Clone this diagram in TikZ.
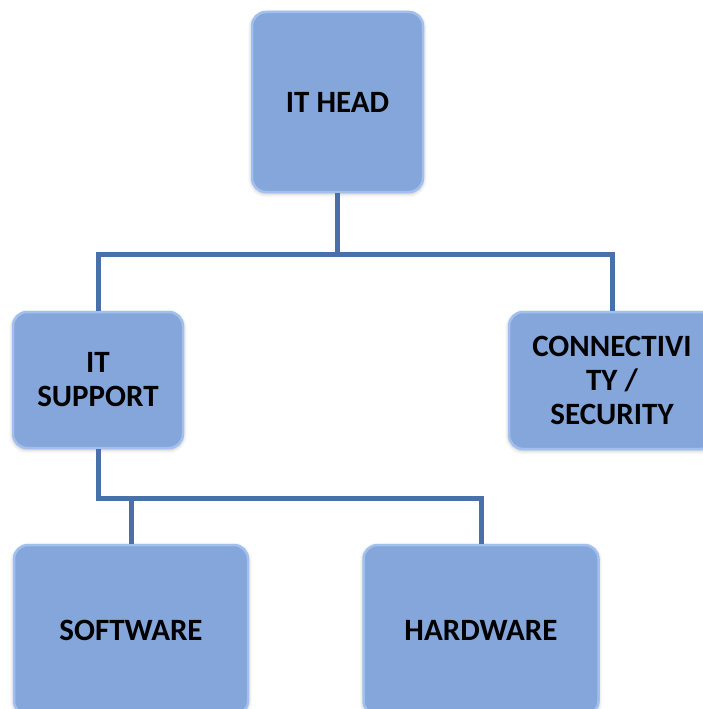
\documentclass[tikz,border=0pt]{standalone}
\usepackage{fontspec}
\setmainfont{Carlito}
\usetikzlibrary{positioning,shadows.blur}
\definecolor{boxfill}{HTML}{84A6DA}
\definecolor{boxedge}{HTML}{A2C0EE}
\definecolor{linkblue}{HTML}{4A70AA}
\tikzset{
  unit/.style={rectangle, rounded corners=14pt, fill=boxfill, draw=boxedge,
    line width=2.5pt, align=center, font=\fontsize{31}{34}\selectfont\bfseries,
    blur shadow={shadow xshift=0pt, shadow yshift=-1.5pt,
      shadow blur radius=4pt, shadow opacity=30}},
  link/.style={draw=linkblue, line width=5pt}
}
\begin{document}
\begin{tikzpicture}[x=1pt,y=-1pt]
          \useasboundingbox (0,0) rectangle (702,709); %
          \node[unit, minimum width=171pt, minimum height=180pt] (head) at (337.5,102) {IT HEAD}; %
          \node[unit, minimum width=170pt, minimum height=136pt] (support) at (98,380) {IT\\SUPPORT}; %
          \node[unit, minimum width=206pt, minimum height=137pt] (conn) at (612,380.5) {CONNECTIVI\\TY /\\SECURITY}; %
          \node[unit, minimum width=234pt, minimum height=170pt] (soft) at (131,630) {SOFTWARE}; %
          \node[unit, minimum width=235pt, minimum height=170pt] (hard) at (481,630) {HARDWARE}; %
          \coordinate (top bar) at ($(head.south)+(0,61)$); %
          \coordinate (low bar) at ($(support.south)+(0,49)$); %
          \draw[link] (head.south) -- (top bar) -| (support.north); %
          \draw[link] (top bar) -| (conn.north); %
          \draw[link] (support.south) -- (low bar) -| (hard.north); %
          \draw[link] (low bar) -| (soft.north); %
        \end{tikzpicture}
\end{document}
